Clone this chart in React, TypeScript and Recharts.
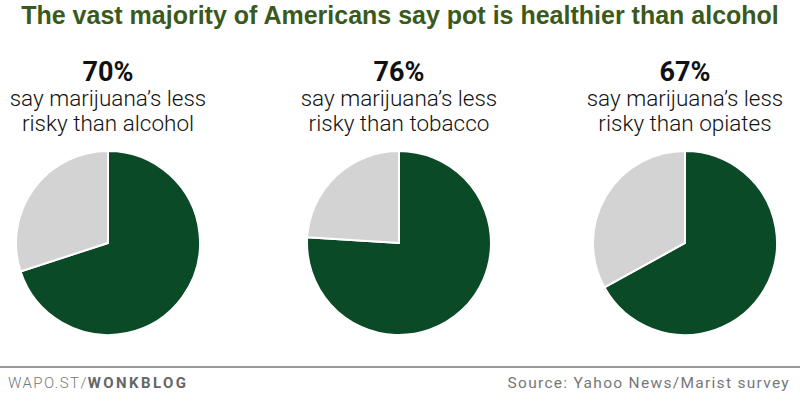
import { PieChart, Pie, Cell } from 'recharts';

const substances = ['alcohol', 'tobacco', 'opiates'];
const lessRisky = [70, 76, 67];
const notLessRisky = [30, 24, 33];
const centers = [108, 399, 685];

const GREEN = '#0b4a26';
const GRAY = '#d3d3d3';

export default function App() {
  return (
    <div style={{ position: 'absolute', left: 0, top: 0, width: 800, height: 393, background: '#fff', fontFamily: 'Roboto, sans-serif' }}>
      <div style={{ position: 'absolute', left: 0, top: -2, width: 800, textAlign: 'center', fontFamily: '"Liberation Sans Narrow", "Arial Narrow", sans-serif', fontWeight: 700, fontSize: 25, color: '#3a5a1c', lineHeight: '34px' }}>
        The vast majority of Americans say pot is healthier than alcohol
      </div>
      {substances.map((s, i) => (
        <div key={s} style={{ position: 'absolute', left: centers[i] - 140, top: 56, width: 280, textAlign: 'center', color: '#111' }}>
          <div style={{ fontWeight: 700, fontSize: 27, lineHeight: '32px' }}>{lessRisky[i]}%</div>
          <div style={{ fontWeight: 300, fontSize: 22.5, lineHeight: '25px', marginTop: -2 }}>say marijuana’s less</div>
          <div style={{ fontWeight: 300, fontSize: 22.5, lineHeight: '25px' }}>risky than {s}</div>
        </div>
      ))}
      <PieChart width={800} height={393} margin={{ top: 0, right: 0, bottom: 0, left: 0 }} style={{ position: 'absolute', left: 0, top: 0 }}>
        {substances.map((s, i) => (
          <Pie
            key={s}
            data={[
              { name: 'less risky', value: lessRisky[i] },
              { name: 'other', value: notLessRisky[i] },
            ]}
            dataKey="value"
            cx={centers[i]}
            cy={243}
            outerRadius={92}
            startAngle={90}
            endAngle={-270}
            stroke="#fff"
            strokeWidth={2}
            isAnimationActive={false}
          >
            <Cell fill={GREEN} />
            <Cell fill={GRAY} />
          </Pie>
        ))}
      </PieChart>
      <div style={{ position: 'absolute', left: 0, top: 366, width: 800, height: 2, background: '#999' }} />
      <div style={{ position: 'absolute', left: 8, top: 374, fontSize: 15, color: '#777', fontWeight: 300, letterSpacing: 1.4 }}>
        WAPO.ST/<span style={{ fontWeight: 700, letterSpacing: 2.4, color: '#666' }}>WONKBLOG</span>
      </div>
      <div style={{ position: 'absolute', right: 10, top: 374, fontSize: 15.5, color: '#777', fontWeight: 400, letterSpacing: 1.3 }}>
        Source: Yahoo News/Marist survey
      </div>
    </div>
  );
}
